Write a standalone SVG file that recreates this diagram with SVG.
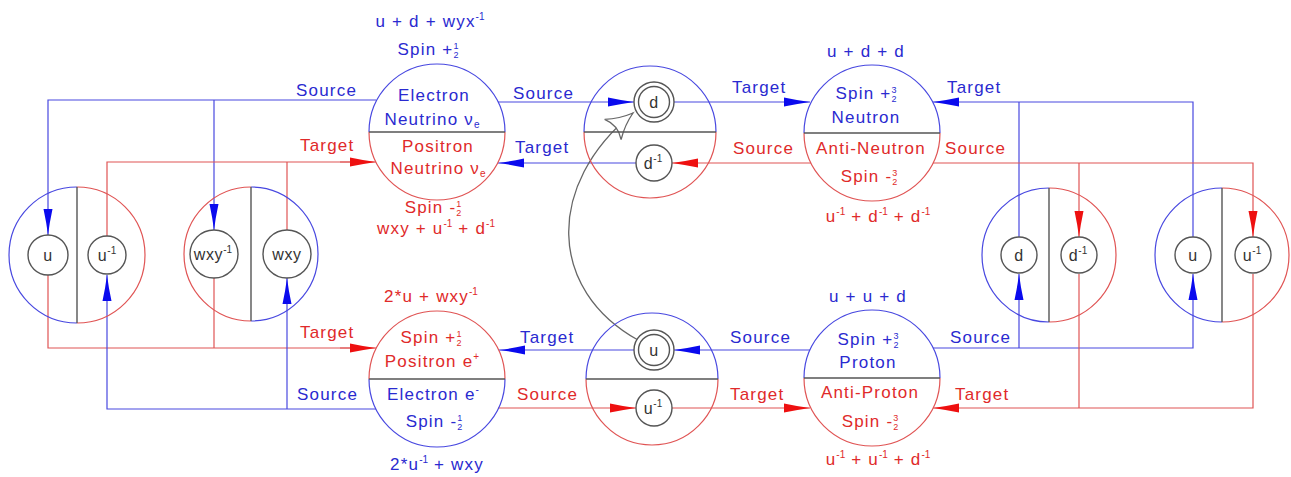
<svg xmlns="http://www.w3.org/2000/svg" width="1291" height="477" viewBox="0 0 1291 477">
<defs>
<style>
text{font-family:"Liberation Sans",Arial,sans-serif;font-size:17px;letter-spacing:1.2px}
.b{fill:#2a2ad0}
.r{fill:#e02a2a}
.k{fill:#333;font-size:16px;letter-spacing:0.6px}
.m{text-anchor:middle}
.sup{font-size:10px;letter-spacing:0}
.fr{font-size:9px;letter-spacing:0}
.bl{stroke:#4848e0;fill:none;stroke-width:1.2}
.rl{stroke:#e05454;fill:none;stroke-width:1.2}
.gl{stroke:#555;fill:none;stroke-width:1.4}
.sc{stroke:#555;fill:#fff;stroke-width:1.4}
.ba{marker-end:url(#ab)}
.ra{marker-end:url(#ar)}
</style>
<marker id="ab" markerUnits="userSpaceOnUse" markerWidth="27" markerHeight="10" refX="26" refY="5" orient="auto">
<path d="M0,0.5 Q14,3.5 26,5 Q14,6.5 0,9.5 Z" fill="#0a0aee"/>
</marker>
<marker id="ar" markerUnits="userSpaceOnUse" markerWidth="27" markerHeight="10" refX="26" refY="5" orient="auto">
<path d="M0,0.5 Q14,3.5 26,5 Q14,6.5 0,9.5 Z" fill="#ee1010"/>
</marker>
<marker id="ao" markerUnits="userSpaceOnUse" markerWidth="30" markerHeight="28" refX="27" refY="14" orient="auto">
<path d="M1,1 Q13,10 27,14 Q13,18 1,27 Q8,14 1,1 Z" fill="#fff" stroke="#666" stroke-width="1.3"/>
</marker>
</defs>
<rect width="1291" height="477" fill="#fff"/>

<g id="connectors">
<!-- top left -->
<path class="bl ba" d="M376,100 H48 V235"/>
<path class="bl ba" d="M214,100 V230"/>
<path class="rl" d="M107,236 V162 H350"/>
<path class="rl ra" d="M340,162 H376"/>
<path class="rl" d="M287,230 V162"/>
<text class="b" x="296" y="96">Source</text>
<text class="r" x="300" y="151">Target</text>
<!-- bottom left -->
<path class="rl" d="M48,275 V348 H350"/>
<path class="rl ra" d="M340,348 H376"/>
<path class="rl" d="M214,278 V348"/>
<path class="bl ba" d="M376,409 H107 V275"/>
<path class="bl ba" d="M287,409 V278"/>
<text class="r" x="300" y="338">Target</text>
<text class="b" x="297" y="400">Source</text>
<!-- middle top -->
<path class="bl ba" d="M498,102 H634"/>
<path class="bl ba" d="M674,102 H810"/>
<path class="rl ra" d="M811,163 H672"/>
<path class="bl ba" d="M636,163 H498"/>
<text class="b" x="513" y="99">Source</text>
<text class="b" x="515" y="153">Target</text>
<text class="b" x="732" y="93">Target</text>
<text class="r" x="733" y="154">Source</text>
<!-- right top -->
<path class="bl ba" d="M1193,237 V102 H933"/>
<path class="bl" d="M1019,237 V102"/>
<path class="rl ra" d="M933,163 H1253 V237"/>
<path class="rl ra" d="M1079,163 V237"/>
<text class="b" x="947" y="93">Target</text>
<text class="r" x="945" y="154">Source</text>
<!-- right bottom -->
<path class="bl ba" d="M933,348 H1193 V274"/>
<path class="bl ba" d="M1019,348 V274"/>
<path class="rl ra" d="M1253,274 V408 H933"/>
<path class="rl" d="M1079,274 V408"/>
<text class="b" x="950" y="343">Source</text>
<text class="r" x="955" y="400">Target</text>
<!-- middle bottom -->
<path class="bl ba" d="M810,350 H674"/>
<path class="bl ba" d="M634,350 H499"/>
<path class="rl ra" d="M498,408 H636"/>
<path class="rl ra" d="M672,408 H810"/>
<text class="b" x="730" y="343">Source</text>
<text class="b" x="520" y="343">Target</text>
<text class="r" x="517" y="400">Source</text>
<text class="r" x="730" y="400">Target</text>
<!-- curve -->
<path d="M638,340 C548,290 545,185 633,113" fill="none" stroke="#666" stroke-width="1.3" marker-end="url(#ao)"/>
</g>

<g id="n-u-left">
<path class="bl" d="M77,187 A68,68 0 0 0 77,323"/>
<path class="rl" d="M77,187 A68,68 0 0 1 77,323"/>
<line class="gl" x1="77" y1="187" x2="77" y2="323"/>
<circle class="sc" cx="48" cy="255" r="20"/>
<circle class="sc" cx="107" cy="255" r="19"/>
<text class="k m" x="48" y="261">u</text>
<text class="k m" x="107" y="261">u<tspan class="sup" dy="-7">-1</tspan></text>
</g>

<g id="n-wxy-left">
<path class="rl" d="M251,187 A67,67 0 0 0 251,321"/>
<path class="bl" d="M251,187 A67,67 0 0 1 251,321"/>
<line class="gl" x1="251" y1="187" x2="251" y2="321"/>
<circle class="sc" cx="214" cy="254" r="24"/>
<circle class="sc" cx="287" cy="254" r="24"/>
<text class="k m" x="213" y="260">wxy<tspan class="sup" dy="-7">-1</tspan></text>
<text class="k m" x="287" y="260">wxy</text>
</g>

<g id="n-neutrino">
<path class="bl" d="M369,132 A68,68 0 0 1 505,132"/>
<path class="rl" d="M369,132 A68,68 0 0 0 505,132"/>
<line class="gl" x1="369" y1="132" x2="505" y2="132"/>
<text class="b m" x="430" y="27">u + d + wyx<tspan class="sup" dy="-7">-1</tspan></text>
<text class="b m" x="428" y="55">Spin +<tspan class="fr" dy="-6">1</tspan><tspan class="fr" dx="-5" dy="9">2</tspan></text>
<text class="b m" x="434" y="101">Electron</text>
<text class="b m" x="432" y="125">Neutrino ν<tspan class="sup" dy="3">e</tspan></text>
<text class="r m" x="438" y="152">Positron</text>
<text class="r m" x="438" y="174">Neutrino ν<tspan class="sup" dy="3">e</tspan></text>
<text class="r m" x="433" y="213">Spin -<tspan class="fr" dy="-6">1</tspan><tspan class="fr" dx="-5" dy="9">2</tspan></text>
<text class="r m" x="436" y="234">wxy + u<tspan class="sup" dy="-7">-1</tspan><tspan dy="7"> + d</tspan><tspan class="sup" dy="-7">-1</tspan></text>
</g>

<g id="n-d-mid">
<path class="bl" d="M584,132 A66,66 0 0 1 716,132"/>
<path class="rl" d="M584,132 A66,66 0 0 0 716,132"/>
<line class="gl" x1="584" y1="132" x2="716" y2="132"/>
<circle class="sc" cx="654" cy="102" r="20"/>
<circle class="sc" cx="654" cy="102" r="15.5"/>
<circle class="sc" cx="654" cy="163" r="18"/>
<text class="k m" x="654" y="108">d</text>
<text class="k m" x="653" y="169">d<tspan class="sup" dy="-7">-1</tspan></text>
</g>

<g id="n-neutron">
<path class="bl" d="M804,133 A68,68 0 0 1 940,133"/>
<path class="rl" d="M804,133 A68,68 0 0 0 940,133"/>
<line class="gl" x1="804" y1="133" x2="940" y2="133"/>
<text class="b m" x="866" y="57">u + d + d</text>
<text class="b m" x="866" y="99">Spin +<tspan class="fr" dy="-6">3</tspan><tspan class="fr" dx="-5" dy="9">2</tspan></text>
<text class="b m" x="866" y="123">Neutron</text>
<text class="r m" x="871" y="154">Anti-Neutron</text>
<text class="r m" x="869" y="182">Spin -<tspan class="fr" dy="-6">3</tspan><tspan class="fr" dx="-5" dy="9">2</tspan></text>
<text class="r m" x="878" y="222">u<tspan class="sup" dy="-7">-1</tspan><tspan dy="7"> + d</tspan><tspan class="sup" dy="-7">-1</tspan><tspan dy="7"> + d</tspan><tspan class="sup" dy="-7">-1</tspan></text>
</g>

<g id="n-positron">
<path class="rl" d="M369,379 A68,68 0 0 1 505,379"/>
<path class="bl" d="M369,379 A68,68 0 0 0 505,379"/>
<line class="gl" x1="369" y1="379" x2="505" y2="379"/>
<text class="r m" x="431" y="302">2*u + wxy<tspan class="sup" dy="-7">-1</tspan></text>
<text class="r m" x="431" y="343">Spin +<tspan class="fr" dy="-6">1</tspan><tspan class="fr" dx="-5" dy="9">2</tspan></text>
<text class="r m" x="432" y="367">Positron e<tspan class="sup" dy="-7">+</tspan></text>
<text class="b m" x="433" y="400">Electron e<tspan class="sup" dy="-7">-</tspan></text>
<text class="b m" x="434" y="427">Spin -<tspan class="fr" dy="-6">1</tspan><tspan class="fr" dx="-5" dy="9">2</tspan></text>
<text class="b m" x="437" y="470">2*u<tspan class="sup" dy="-7">-1</tspan><tspan dy="7"> + wxy</tspan></text>
</g>

<g id="n-u-mid">
<path class="bl" d="M586,379 A66,66 0 0 1 718,379"/>
<path class="rl" d="M586,379 A66,66 0 0 0 718,379"/>
<line class="gl" x1="586" y1="379" x2="718" y2="379"/>
<circle class="sc" cx="654" cy="350" r="20"/>
<circle class="sc" cx="654" cy="350" r="15.5"/>
<circle class="sc" cx="654" cy="408" r="18"/>
<text class="k m" x="654" y="356">u</text>
<text class="k m" x="653" y="414">u<tspan class="sup" dy="-7">-1</tspan></text>
</g>

<g id="n-proton">
<path class="bl" d="M804,378 A68,68 0 0 1 940,378"/>
<path class="rl" d="M804,378 A68,68 0 0 0 940,378"/>
<line class="gl" x1="804" y1="378" x2="940" y2="378"/>
<text class="b m" x="868" y="302">u + u + d</text>
<text class="b m" x="868" y="345">Spin +<tspan class="fr" dy="-6">3</tspan><tspan class="fr" dx="-5" dy="9">2</tspan></text>
<text class="b m" x="868" y="368">Proton</text>
<text class="r m" x="870" y="398">Anti-Proton</text>
<text class="r m" x="870" y="427">Spin -<tspan class="fr" dy="-6">3</tspan><tspan class="fr" dx="-5" dy="9">2</tspan></text>
<text class="r m" x="878" y="465">u<tspan class="sup" dy="-7">-1</tspan><tspan dy="7"> + u</tspan><tspan class="sup" dy="-7">-1</tspan><tspan dy="7"> + d</tspan><tspan class="sup" dy="-7">-1</tspan></text>
</g>

<g id="n-d-right">
<path class="bl" d="M1049,188 A67,67 0 0 0 1049,322"/>
<path class="rl" d="M1049,188 A67,67 0 0 1 1049,322"/>
<line class="gl" x1="1049" y1="188" x2="1049" y2="322"/>
<circle class="sc" cx="1019" cy="255" r="18"/>
<circle class="sc" cx="1079" cy="255" r="18"/>
<text class="k m" x="1019" y="261">d</text>
<text class="k m" x="1078" y="261">d<tspan class="sup" dy="-7">-1</tspan></text>
</g>

<g id="n-u-right">
<path class="bl" d="M1222,188 A67,67 0 0 0 1222,322"/>
<path class="rl" d="M1222,188 A67,67 0 0 1 1222,322"/>
<line class="gl" x1="1222" y1="188" x2="1222" y2="322"/>
<circle class="sc" cx="1193" cy="255" r="18"/>
<circle class="sc" cx="1253" cy="255" r="18"/>
<text class="k m" x="1193" y="261">u</text>
<text class="k m" x="1252" y="261">u<tspan class="sup" dy="-7">-1</tspan></text>
</g>
</svg>
